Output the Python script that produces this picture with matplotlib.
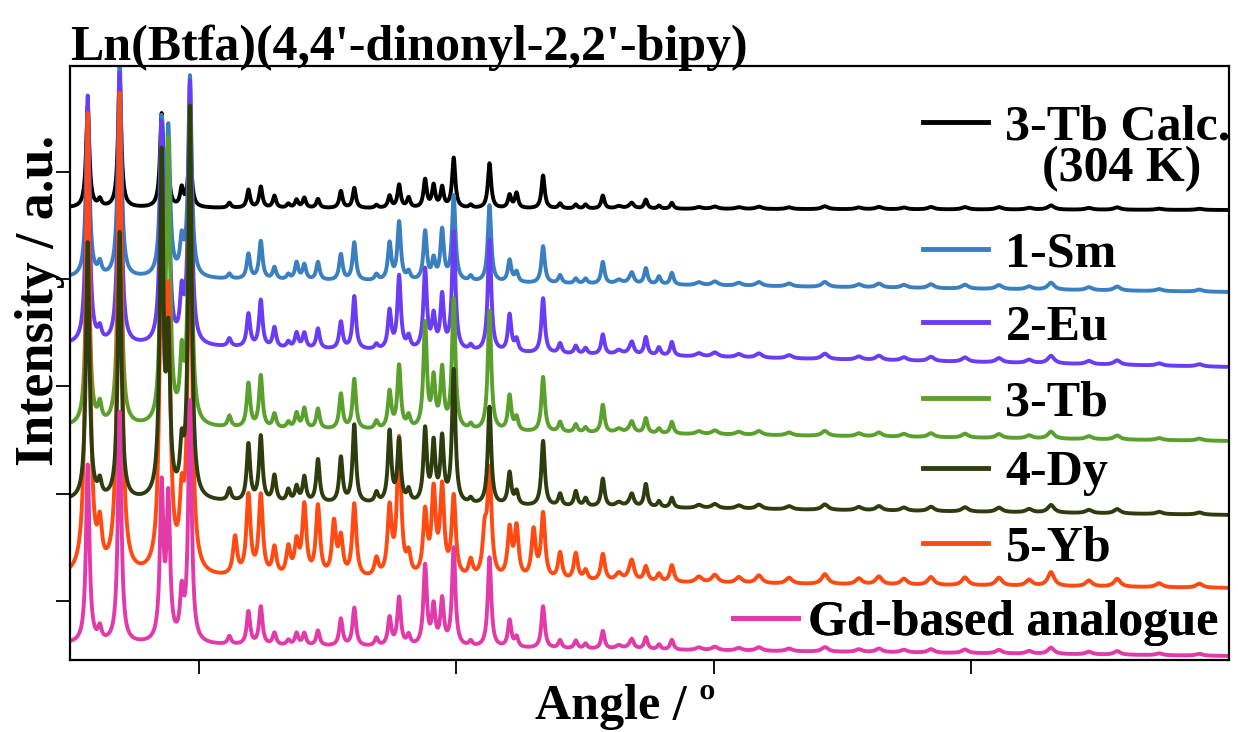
import numpy as np
import matplotlib.pyplot as plt

# sharp peak positions (2theta, deg) shared by all patterns
peak_pos = [5.69, 6.16, 6.93, 8.56, 8.82, 9.34, 9.66, 11.19, 11.41, 11.93,
            12.41, 12.94, 13.48, 13.80, 14.10, 14.63, 15.25, 15.52, 16.04, 16.90,
            17.41, 17.78, 18.15, 18.79, 19.12, 19.45, 19.90, 20.56, 21.10, 21.29,
            22.07, 22.34, 23.00, 23.37, 24.03, 24.64, 25.02, 25.69, 26.82, 27.36,
            27.87, 28.37]

# peak heights (same units as the y axis)
calc = [101, 7, 130, 92, 30, 18, 62, 5, 0, 18,
        21, 12, 4, 8, 10, 9, 0, 17, 20, 3,
        12, 23, 10, 28, 22, 20, 50, 3, 0, 45,
        13, 15, 0, 33, 5, 4, 4, 13, 3, 9,
        3, 6]
sm = [170, 12, 220, 150, 140, 32, 200, 5, 0, 25,
      38, 12, 5, 17, 15, 18, 0, 26, 38, 6,
      37, 58, 8, 49, 20, 50, 85, 5, 0, 77,
      22, 10, 0, 37, 8, 5, 5, 22, 7, 16,
      8, 12]
eu = [248, 12, 271, 210, 150, 45, 261, 8, 0, 33,
      47, 20, 6, 15, 15, 20, 0, 27, 53, 5,
      38, 73, 12, 80, 32, 53, 118, 5, 0, 112,
      37, 12, 0, 55, 10, 8, 6, 20, 8, 18,
      8, 14]
tb = [238, 18, 308, 200, 269, 61, 316, 11, 0, 44,
      52, 14, 6, 15, 20, 20, 0, 35, 50, 8,
      37, 63, 12, 105, 48, 58, 130, 5, 0, 120,
      35, 13, 0, 55, 10, 8, 5, 28, 7, 15,
      5, 12]
dy = [257, 15, 267, 338, 150, 43, 391, 12, 0, 57,
      65, 26, 12, 15, 25, 43, 0, 45, 78, 10,
      71, 62, 12, 73, 58, 63, 133, 5, 0, 98,
      32, 13, 0, 65, 12, 15, 8, 28, 8, 23,
      6, 10]
yb = [460, 40, 480, 330, 250, 60, 380, 0, 38, 80,
      80, 28, 28, 32, 70, 70, 53, 37, 73, 18,
      67, 137, 20, 63, 83, 87, 80, 17, 40, 105,
      48, 50, 48, 65, 27, 27, 10, 27, 12, 15,
      8, 17]
gd = [178, 13, 231, 153, 140, 45, 240, 8, 0, 33,
      38, 12, 5, 12, 12, 15, 0, 27, 38, 8,
      28, 48, 10, 80, 38, 45, 98, 5, 0, 90,
      27, 10, 0, 42, 8, 8, 5, 18, 6, 12,
      5, 10]

# small broad humps of the high-angle background
hump_pos = [26.31, 26.78, 29.42, 30.04, 30.97, 31.75, 32.92, 34.31, 35.63, 36.41,
            37.38, 38.43, 39.75, 41.07, 42.24, 43.09, 44.56, 45.66, 47.29, 48.85]
hump_h = [4, 5, 3, 4, 3, 4, 3, 5, 3, 4, 3, 4, 4, 4, 3, 7, 3, 4, 2, 2]
hump_scale = [0.6, 1.0, 1.1, 1.0, 1.1, 2.0, 0.9]

labels = ["3-Tb Calc.", "1-Sm", "2-Eu", "3-Tb", "4-Dy", "5-Yb", "Gd-based analogue"]
heights = [calc, sm, eu, tb, dy, yb, gd]
# baseline at 5 deg and at 50 deg for each pattern
base_start = [452, 382, 315, 233, 159, 82, 16]
base_end = [450, 368, 293, 219, 145, 72, 4]
widths = [0.075, 0.08, 0.08, 0.08, 0.08, 0.095, 0.08]
colors = ["#000000", "#3a80c0", "#6a3cf5", "#5aa02c", "#2e3d0d", "#ff4a12", "#e23aa8"]
layer = [1, 2, 3, 4, 6, 5, 7]

x_ticks = [10, 20, 30, 40]
y_ticks = [59, 166, 274, 381, 488]

# legend entries: handle left edge and vertical centre (axes fraction)
key_x = [0.736, 0.736, 0.736, 0.736, 0.736, 0.736, 0.5725]
key_y = [0.897, 0.682, 0.560, 0.431, 0.314, 0.187, 0.062]
key_pad = [0.35, 0.35, 0.35, 0.35, 0.35, 0.35, 0.2]

serif = dict(family="Liberation Serif", weight="bold")

fig = plt.figure(figsize=(12.38, 7.32), dpi=100)
ax = fig.add_axes([0.0565, 0.0984, 0.9362, 0.8114])

tt = np.linspace(5, 50, 4501)
pos = np.array(peak_pos)
hpos = np.array(hump_pos)
lines = []
for h, hs, b0, b1, w, c, z in zip(heights, hump_scale, base_start, base_end,
                                   widths, colors, layer):
    prof = np.array(h)[:, None] / (1 + ((tt[None, :] - pos[:, None]) / w) ** 2)
    bumps = hs * np.array(hump_h)[:, None] / (1 + ((tt[None, :] - hpos[:, None]) / 0.15) ** 2)
    yy = np.interp(tt, [5, 50], [b0, b1]) + prof.sum(axis=0) + bumps.sum(axis=0)
    ln, = ax.plot(tt, yy, color=c, lw=2.8, zorder=z)
    lines.append(ln)

ax.set_xlim(5, 50)
ax.set_ylim(0, 594)
ax.set_xticks(x_ticks)
ax.set_yticks(y_ticks)
ax.tick_params(direction="out", length=10, width=1.3, labelbottom=False, labelleft=False)
for s in ax.spines.values():
    s.set_linewidth(1.6)
    s.set_zorder(10)

for ln, lab, kx, ky, kp in zip(lines, labels, key_x, key_y, key_pad):
    leg = ax.legend([ln], [lab], loc="center left", bbox_to_anchor=(kx, ky),
                    frameon=False, handlelength=1.3, handletextpad=kp,
                    borderpad=0, borderaxespad=0, prop=dict(size=36, **serif))
    for l in leg.get_lines():
        l.set_linewidth(3.5)
    leg.set_zorder(20)
    ax.add_artist(leg)
ax.text(0.9076, 0.826, "(304 K)", transform=ax.transAxes, ha="center", va="center",
        fontsize=36, zorder=20, **serif)

ax.set_title("Ln(Btfa)(4,4'-dinonyl-2,2'-bipy)", loc="left", fontsize=36, pad=4, **serif)
ax.set_xlabel("Angle / º", fontsize=36, **serif)
ax.set_ylabel("Intensity / a.u.", fontsize=39, **serif)
ax.xaxis.set_label_coords(0.479, -0.04)
ax.yaxis.set_label_coords(-0.004, 0.606)

fig.savefig("out.png", dpi=100)
